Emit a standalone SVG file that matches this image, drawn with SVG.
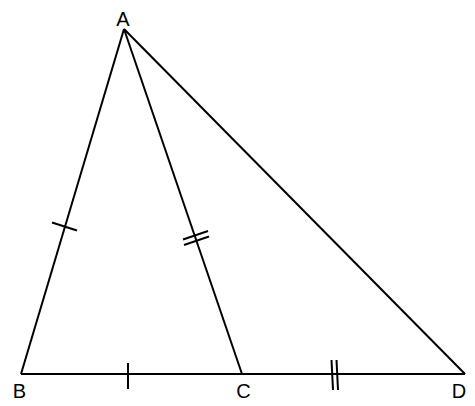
<svg xmlns="http://www.w3.org/2000/svg" width="475" height="406" viewBox="0 0 475 406">
<style>
.l{stroke:#000;stroke-width:2;fill:none;stroke-linecap:butt}
.t{font-family:"Liberation Sans",Arial,sans-serif;font-size:20px;fill:#000;text-anchor:middle}
</style>
<rect width="475" height="406" fill="#fff"/>
<g id="connectors">
<line class="l" x1="124" y1="29" x2="21" y2="374"/>
<line class="l" x1="124" y1="29" x2="242" y2="374"/>
<line class="l" x1="124" y1="29" x2="465" y2="374"/>
<line class="l" x1="21" y1="374" x2="465" y2="374"/>
<line class="l" x1="52" y1="222.5" x2="77" y2="230.5"/>
<line class="l" x1="183" y1="239.5" x2="208" y2="231"/>
<line class="l" x1="184" y1="245" x2="209" y2="236.5"/>
<line class="l" x1="128" y1="363" x2="128" y2="389"/>
<line class="l" x1="331.5" y1="360" x2="333" y2="390"/>
<line class="l" x1="336.5" y1="360" x2="338" y2="390"/>
</g>
<g id="A"><text class="t" x="123" y="26">A</text></g>
<g id="B"><text class="t" x="19.5" y="397.5">B</text></g>
<g id="C"><text class="t" x="243.5" y="397.5">C</text></g>
<g id="D"><text class="t" x="459" y="397.5">D</text></g>
</svg>
